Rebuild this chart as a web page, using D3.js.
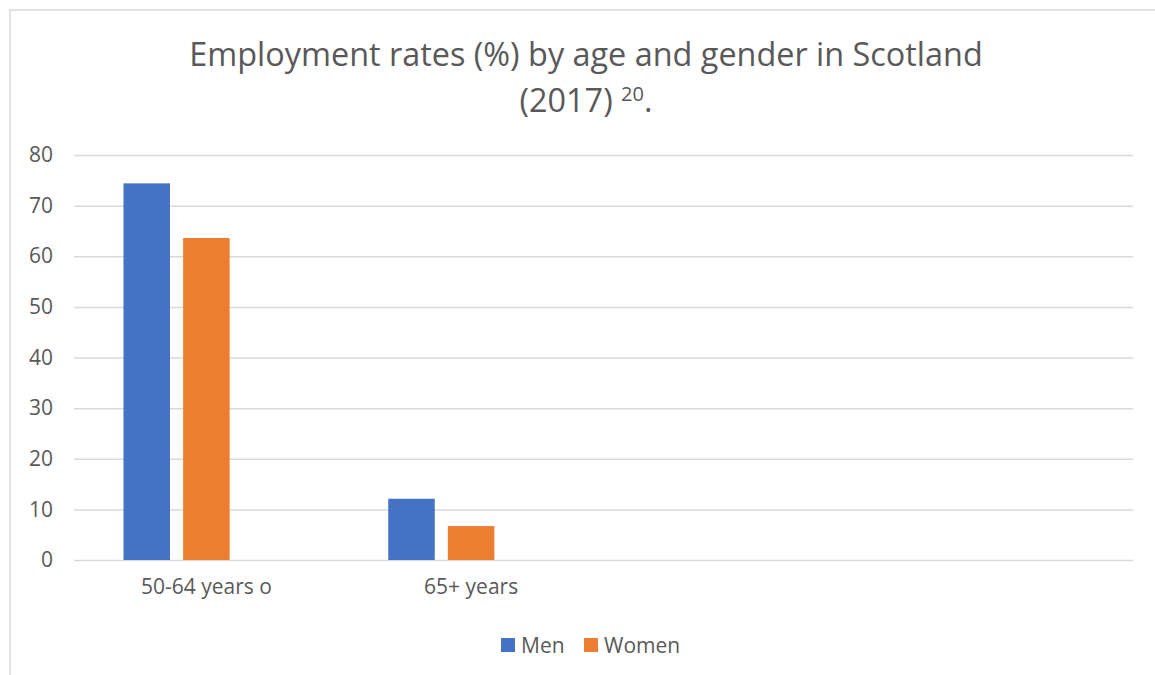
<!DOCTYPE html>
<html>
<head>
<meta charset="utf-8">
<script src="https://cdn.jsdelivr.net/npm/d3@7"></script>
<style>
  body { margin: 0; background: #fff; }
  text { font-family: "Open Sans", sans-serif; fill: #595959; }
</style>
</head>
<body>
<script>
// data
const categories = ['50-64 years o', '65+ years', '', '']
const series = ['Men', 'Women']
const men = [74.4, 12.1, null, null]
const women = [63.6, 6.7, null, null]
const yTicks = [0, 10, 20, 30, 40, 50, 60, 70, 80]
const colors = ['#4472C4', '#ED7D31']

const WIDTH = 1155
const HEIGHT = 675
const values = [men, women]

const svg = d3.select(document.body).append('svg')
  .attr('width', WIDTH)
  .attr('height', HEIGHT)

// chart border (runs off the right and bottom edge)
svg.append('rect')
  .attr('x', 10).attr('y', 10)
  .attr('width', WIDTH).attr('height', HEIGHT)
  .attr('fill', 'none')
  .attr('stroke', '#D9D9D9')
  .attr('stroke-width', 1.5)

const x0 = d3.scaleBand()
  .domain(d3.range(categories.length))
  .range([74, 1133])

// three slots per group: the third one is an empty series in the source
const x1 = d3.scaleBand()
  .domain([0, 1, 2])
  .range([0, x0.bandwidth()])
  .paddingInner(0.22)
  .paddingOuter(0.83)

const y = d3.scaleLinear()
  .domain([0, 80])
  .range([560, 155])

// gridlines + labels
const yAxis = svg.append('g')
  .attr('transform', 'translate(74,0)')
  .call(d3.axisLeft(y).tickValues(yTicks).tickSize(-(1133 - 74)).tickPadding(21))
yAxis.select('.domain').remove()
yAxis.selectAll('line').attr('stroke', '#D9D9D9').attr('stroke-width', 1.5)
yAxis.selectAll('text').attr('font-size', 21).attr('fill', '#595959')
  .style('font-family', '"Open Sans", sans-serif')

// bars
series.forEach(function(name, s) {
  svg.append('g').selectAll('rect')
    .data(values[s].map(function(v, i) { return { i: i, v: v } }).filter(function(d) { return d.v != null }))
    .enter()
    .append('rect')
    .attr('x', function(d) { return x0(d.i) + x1(s) })
    .attr('width', x1.bandwidth())
    .attr('y', function(d) { return y(d.v) })
    .attr('height', function(d) { return y(0) - y(d.v) })
    .attr('fill', colors[s])
})

// category labels
const xAxis = svg.append('g')
  .attr('transform', 'translate(0,560)')
  .call(d3.axisBottom(x0).tickSize(0).tickPadding(19).tickFormat(function(i) { return categories[i] }))
xAxis.select('.domain').remove()
xAxis.selectAll('text').attr('font-size', 21).attr('fill', '#595959')
  .style('font-family', '"Open Sans", sans-serif')

// title
const title = svg.append('text')
  .attr('text-anchor', 'middle')
  .attr('font-size', 32.4)
title.append('tspan').attr('x', 586).attr('y', 66)
  .text('Employment rates (%) by age and gender in Scotland')
const line2 = title.append('tspan').attr('x', 586).attr('y', 112)
line2.append('tspan').text('(2017) ')
line2.append('tspan').attr('font-size', 20).attr('dy', -11).text('20')
line2.append('tspan').attr('dy', 11).text('.')

// legend
const legend = svg.append('g').attr('transform', 'translate(501,638)')
const items = legend.selectAll('g')
  .data(series)
  .enter()
  .append('g')
  .attr('transform', function(d, i) { return 'translate(' + (i * 83) + ',0)' })
items.append('rect')
  .attr('width', 14).attr('height', 14)
  .attr('fill', function(d, i) { return colors[i] })
items.append('text')
  .attr('x', 20).attr('y', 14.5)
  .attr('font-size', 21)
  .text(function(d) { return d })
</script>
</body>
</html>
